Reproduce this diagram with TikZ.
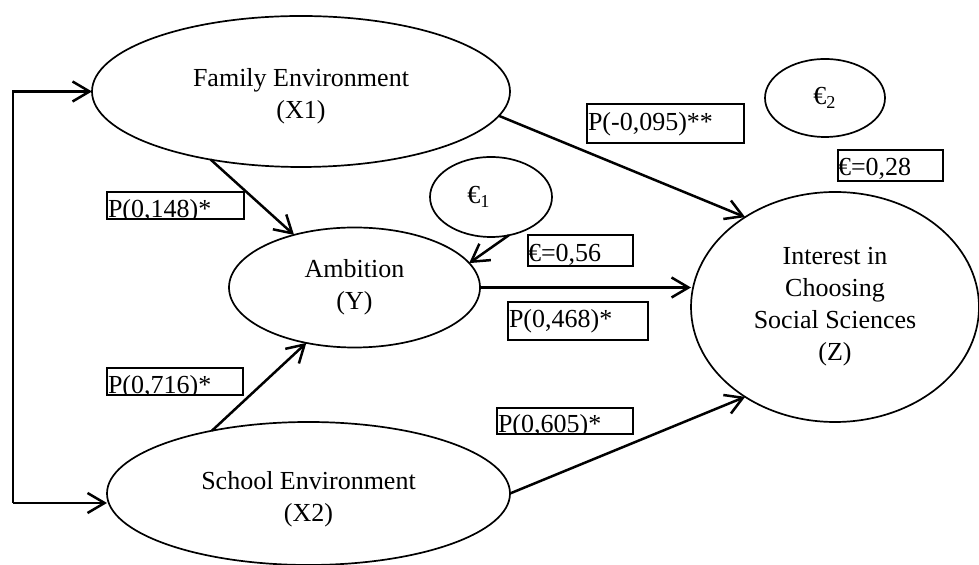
\documentclass[tikz,border=0pt]{standalone}
\usepackage{fontspec}
\setmainfont{Liberation Serif}
\usetikzlibrary{arrows.meta,shapes.geometric}
\begin{document}
\begin{tikzpicture}[x=0.5pt,y=-0.5pt,
  every node/.style={font=\fontsize{13}{16}\selectfont},
  oval/.style={ellipse, draw, line width=0.85pt, inner sep=0pt, outer sep=0pt, align=center},
  arr/.style={-{Straight Barb[length=8.5pt,width=10pt]}, line width=1.25pt},
  box/.style={draw, line width=0.8pt, rectangle, inner sep=0pt, outer sep=0pt},
  lbl/.style={anchor=base west, inner sep=0pt, outer sep=0pt}]
\useasboundingbox (0,0) rectangle (979,565);

% latent variables
\node[oval, minimum width=209pt, minimum height=75.5pt] (fam) at (301,91.5) {\rule{0pt}{14pt}Family Environment\\(X1)};
\node[oval, minimum width=125.5pt, minimum height=60pt] (amb) at (354.5,287.5) {Ambition\\(Y)};
\node[oval, minimum width=201.5pt, minimum height=71.5pt] (sch) at (308.5,493.5) {\rule{0pt}{15pt}School Environment\\(X2)};
\node[oval, minimum width=144pt, minimum height=115pt] (z) at (835,307) {Interest in\\Choosing\\Social Sciences\\(Z)};
\node[oval, minimum width=61pt, minimum height=40pt] (e1) at (491,197) {€\textsubscript{1}\hspace*{12pt}};
\node[oval, minimum width=60pt, minimum height=39pt] (e2) at (825,98) {€\textsubscript{2}};

% bracket on the left
\coordinate (lt) at (13,91.5);
\coordinate (lb) at (13,503);
\draw[arr] (lb) -- (lt) -- (fam.west);
\draw[arr] (lb) -- (lb -| sch.west);

% paths
\draw[arr] (fam.217.1) -- (amb.139.5);
\draw[arr] (sch.147.6) -- (amb.229.4);
\draw[arr] (fam.-7.5) -- (z.135.9);
\draw[arr] (amb.east) -- (amb.east -| z.west);
\draw[arr] (sch.east) -- (z.225.9);
\draw[arr] (e1.-65.7) -- (amb.12.8);

% coefficient boxes
\node[box, minimum width=68.5pt, minimum height=13.5pt] (b1) at (175.5,205.5) {};
\begin{scope}
  \clip (b1.south west) rectangle (b1.north east);
  \node[lbl] (t1) at (108,218) {P(0,148)*};
\end{scope}

\node[box, minimum width=68pt, minimum height=13.5pt] (b2) at (175,381.5) {};
\begin{scope}
  \clip (b2.south west) rectangle (b2.north east);
  \node[lbl] (t2) at (108,394) {P(0,716)*};
\end{scope}

\node[box, minimum width=78.5pt, minimum height=19.5pt] (b3) at (665.5,123.5) {};
\node[lbl] (t3) at (588,131) {P(-0,095)**};

\node[box, minimum width=52.5pt, minimum height=15.5pt] (b4) at (580.5,250.5) {};
\node[lbl] (t4) at (528,262) {€=0,56};

\node[box, minimum width=52.5pt, minimum height=15.5pt] (b5) at (890.5,165.5) {};
\node[lbl] (t5) at (838,176) {€=0,28};

\node[box, minimum width=70pt, minimum height=19pt] (b6) at (578,321) {};
\node[lbl] (t6) at (509,328) {P(0,468)*};

\node[box, minimum width=68pt, minimum height=13pt] (b7) at (565,421) {};
\begin{scope}
  \clip (b7.south west) rectangle (b7.north east);
  \node[lbl] (t7) at (498,433) {P(0,605)*};
\end{scope}
\end{tikzpicture}
\end{document}
